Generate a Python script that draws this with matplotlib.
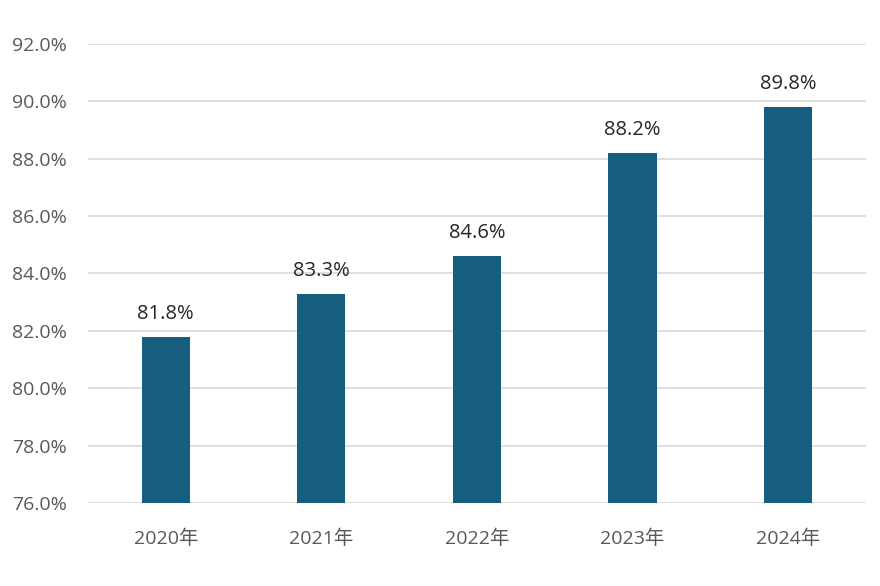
import matplotlib
matplotlib.use("Agg")
import matplotlib.pyplot as plt
from matplotlib.ticker import FuncFormatter

plt.rcParams['font.family'] = ['Open Sans', 'Noto Sans CJK SC', 'DejaVu Sans']

years = ['2020年', '2021年', '2022年', '2023年', '2024年']
rates = [81.8, 83.3, 84.6, 88.2, 89.8]
y_ticks = [76, 78, 80, 82, 84, 86, 88, 90, 92]

fig = plt.figure(figsize=(8.8, 5.86), dpi=100)
ax = fig.add_axes([0.1, 0.1416, 0.884, 0.7834])

x = range(len(years))
ax.bar(x, rates, width=0.31, color='#165E80', zorder=3)
for xi, v in zip(x, rates):
    ax.text(xi, v + 0.45, f'{v:.1f}%', ha='center', va='bottom', fontsize=14.5, color='#262626')

ax.set_ylim(76, 92)
ax.set_xlim(-0.5, len(years) - 0.5)
ax.set_yticks(y_ticks)
ax.yaxis.set_major_formatter(FuncFormatter(lambda v, p: f'{v:.1f}%'))
ax.set_xticks(list(x))
ax.set_xticklabels(years)
ax.tick_params(axis='both', length=0, labelsize=14, colors='#595959')
ax.tick_params(axis='x', pad=19)
ax.tick_params(axis='y', pad=15)
ax.grid(axis='y', color='#D9D9D9', linewidth=1.2, zorder=0)
for s in ax.spines.values():
    s.set_visible(False)

fig.savefig('out.png', dpi=100)
